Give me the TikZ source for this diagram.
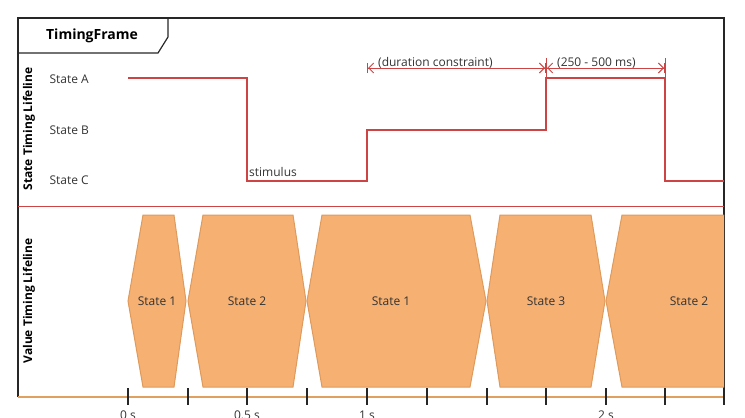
\documentclass[tikz,border=0pt]{standalone}
\usepackage{fontspec}
\setmainfont{Open Sans}
\usetikzlibrary{arrows.meta}
\definecolor{sred}{HTML}{CC4444}
\definecolor{hexfill}{HTML}{F5B072}
\definecolor{hexdraw}{HTML}{DE9A5C}
\definecolor{axis}{HTML}{E0A060}
\begin{document}
\begin{tikzpicture}[x=1pt,y=-1pt,
  lbl/.style={font=\fontsize{12}{14}\selectfont, text=black!80},
  vlbl/.style={font=\fontsize{12}{14}\selectfont\bfseries, rotate=90},
  hexa/.style={fill=hexfill, draw=hexdraw, line width=1pt},
  sig/.style={draw=sred, line width=1.2pt},
  dim/.style={draw=sred, line width=1pt, {Bar[width=10pt]Straight Barb[length=5pt,width=10pt]}-{Straight Barb[length=5pt,width=10pt]Bar[width=10pt]}}]
\useasboundingbox (0,0) rectangle (745,418);
% frame
\draw[black!85, line width=1.2pt] (18,397) -- (18,18) -- (724,18) -- (724,397);
\draw[black!85, line width=1.2pt] (18,53) -- (158,53) -- (168,37) -- (168,18);
\node[font=\fontsize{14}{16}\selectfont\bfseries] (title) at (92,36) {TimingFrame};
% lifeline labels
\node[vlbl] (sl) at (29,129) {State Timing Lifeline};
\node[vlbl] (vl) at (29,301) {Value Timing Lifeline};
\draw[sred, line width=1pt] (18,206) -- (724,206);
% state labels
\node[lbl, anchor=west] (sa) at (46,79) {State A};
\node[lbl, anchor=west] (sb) at (46,130) {State B};
\node[lbl, anchor=west] (sc) at (46,180) {State C};
% signal
\draw[sig] (128,78) -- (247,78) -- (247,181) -- (367,181) -- (367,130) -- (546,130) -- (546,78) -- (665,78) -- (665,181) -- (724,181);
\node[lbl, anchor=south west, inner sep=1pt] (stim) at (248,178) {stimulus};
% dimensions
\coordinate (d1) at (367,68); \coordinate (d2) at (546,68); \coordinate (d3) at (665,68);
\draw[dim] (d1) -- (d2);
\draw[dim] (d2) -- (d3);
\draw[sred, line width=1pt] (546,58) -- (546,78) (665,58) -- (665,78);
\node[lbl, anchor=south west, inner sep=1pt] (dc) at (377,70) {(duration constraint)};
\node[lbl, anchor=south west, inner sep=1pt] (dr) at (556,70) {(250 - 500 ms)};
% hexagons
\begin{scope}
\clip (18,206) rectangle (724,397);
\draw[hexa] (128,301) -- (143,215) -- (174,215) -- (186,301) -- (174,387) -- (143,387) -- cycle;
\draw[hexa] (188,301) -- (203,215) -- (293,215) -- (306,301) -- (293,387) -- (203,387) -- cycle;
\draw[hexa] (307,301) -- (322,215) -- (470,215) -- (486,301) -- (470,387) -- (322,387) -- cycle;
\draw[hexa] (487,301) -- (500,215) -- (591,215) -- (605,301) -- (591,387) -- (500,387) -- cycle;
\draw[hexa] (606,301) -- (622,215) -- (740,215) -- (740,387) -- (622,387) -- cycle;
\end{scope}
\node[lbl] (h1) at (157,301) {State 1};
\node[lbl] (h2) at (247,301) {State 2};
\node[lbl] (h3) at (391,301) {State 1};
\node[lbl] (h4) at (546,301) {State 3};
\node[lbl] (h5) at (689,301) {State 2};
% axis
\draw[axis, line width=2pt] (18,397) -- (724,397);
\foreach \x in {128,188,247,307,367,427,487,546,606,665,724}
  \draw[black!85, line width=1.2pt] (\x,388) -- (\x,405);
\foreach \x/\t in {128/0 s,247/0.5 s,367/1 s,606/2 s}
  \node[lbl, anchor=north] at (\x,407) {\t};
\end{tikzpicture}
\end{document}
